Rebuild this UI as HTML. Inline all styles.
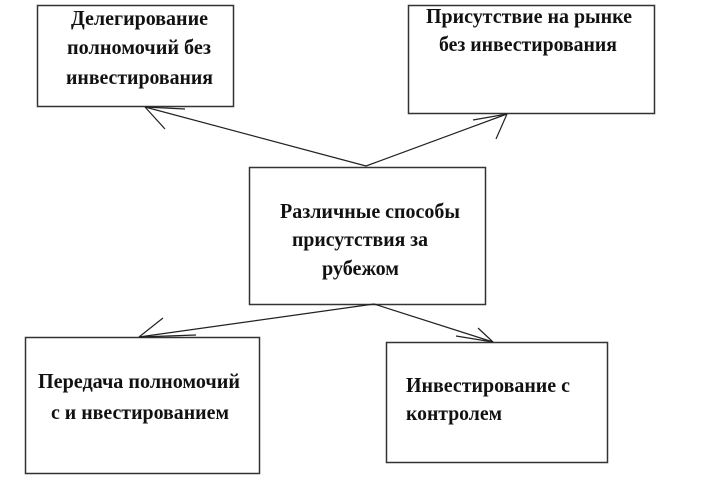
<!DOCTYPE html>
<html><head><meta charset="utf-8"><style>
html,body{margin:0;padding:0;background:#fff;}
svg{display:block;}
text{font-family:"Liberation Serif","Noto Serif CJK SC",serif;font-weight:bold;font-size:21px;fill:#111;}
</style></head><body>
<svg width="715" height="483" viewBox="0 0 715 483" xmlns="http://www.w3.org/2000/svg">
<g fill="#fff" stroke="#333" stroke-width="1.5">
<rect x="37.5" y="5.5" width="196" height="101"/>
<rect x="408.5" y="5.5" width="246" height="108"/>
<rect x="249.5" y="167.5" width="236" height="137"/>
<rect x="25.5" y="337.5" width="234" height="136"/>
<rect x="386.5" y="342.5" width="221" height="120"/>
</g>
<g stroke="#222" stroke-width="1.2" fill="none">
<line x1="366" y1="166" x2="145" y2="107"/>
<line x1="145" y1="107" x2="185" y2="109"/>
<line x1="145" y1="107" x2="165" y2="129"/>
<line x1="366" y1="166" x2="507" y2="114"/>
<line x1="507" y1="114" x2="473" y2="120"/>
<line x1="507" y1="114" x2="496" y2="139"/>
<line x1="374" y1="304" x2="139" y2="337"/>
<line x1="139" y1="337" x2="163" y2="318"/>
<line x1="139" y1="337" x2="196" y2="335"/>
<line x1="374" y1="304" x2="493" y2="342"/>
<line x1="493" y1="342" x2="478" y2="328"/>
<line x1="493" y1="342" x2="456" y2="336"/>
</g>
<text x="71" y="25" textLength="137" lengthAdjust="spacingAndGlyphs">Делегирование</text>
<text x="67" y="54" textLength="144" lengthAdjust="spacingAndGlyphs">полномочий без</text>
<text x="66" y="84" textLength="147" lengthAdjust="spacingAndGlyphs">инвестирования</text>
<text x="426" y="23" textLength="206" lengthAdjust="spacingAndGlyphs">Присутствие на рынке</text>
<text x="439" y="51" textLength="178" lengthAdjust="spacingAndGlyphs">без инвестирования</text>
<text x="280" y="218" textLength="180" lengthAdjust="spacingAndGlyphs">Различные способы</text>
<text x="292" y="246" textLength="136" lengthAdjust="spacingAndGlyphs">присутствия за</text>
<text x="322" y="275" textLength="77" lengthAdjust="spacingAndGlyphs">рубежом</text>
<text x="38" y="388" textLength="202" lengthAdjust="spacingAndGlyphs">Передача полномочий</text>
<text x="51" y="419" textLength="178" lengthAdjust="spacingAndGlyphs">с и нвестированием</text>
<text x="406" y="392" textLength="164" lengthAdjust="spacingAndGlyphs">Инвестирование с</text>
<text x="406" y="420" textLength="96" lengthAdjust="spacingAndGlyphs">контролем</text>
</svg>
</body></html>
